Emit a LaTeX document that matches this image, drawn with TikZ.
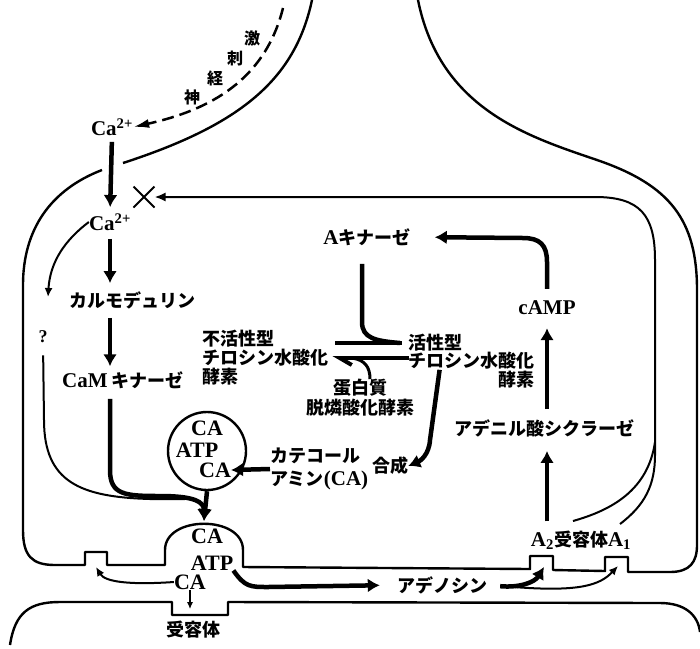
\documentclass[tikz,border=0pt]{standalone}
\usepackage{fontspec}
\setmainfont{Liberation Serif}
\newfontfamily\jpfont{Noto Sans CJK JP}
\newcommand{\rl}[1]{{\rmfamily\fontsize{21}{23}\selectfont #1}}
\usetikzlibrary{positioning,arrows.meta,shapes.misc}

\begin{document}
\begin{tikzpicture}[x=1pt, y=-1pt,
    >={Latex[length=12pt,width=14pt]},
    jlbl/.style={font=\jpfont\bfseries\fontsize{18}{20}\selectfont, inner sep=0pt},
    nlbl/.style={font=\jpfont\bfseries\fontsize{16}{16}\selectfont, inner sep=0pt},
    lat/.style={font=\bfseries\fontsize{21}{23}\selectfont, inner sep=0pt},
    chem/.style={font=\bfseries\fontsize{22}{24}\selectfont, inner sep=0pt},
    mem/.style={line width=2.4pt, line join=round},
    bigarrow/.style={->, line width=4.5pt},
    thinarrow/.style={-{Latex[length=9pt,width=8pt]}, line width=2pt}
  ]
  \useasboundingbox (0,0) rectangle (700,648);

  % ===== Membranes =====
  % axon, left side (open where Ca enters)
  \draw[mem] (312,0) .. controls (295,80) and (240,125) .. (123,163);
  \draw[mem] (102,170) .. controls (50,190) and (23,230) .. (23,285)
    -- (23,530) .. controls (23,556) and (32,565) .. (55,565)
    -- (85,565) -- (85,552) -- (107,552) -- (107,565)
    -- (165,565) -- (165,550)
    .. controls (165,515) and (243,515) .. (243,550)
    -- (243,567) -- (530,569) -- (530,556) -- (553,556) -- (553,570)
    -- (605,571) -- (605,557) -- (628,557) -- (628,572)
    -- (670,572) .. controls (690,572) and (697,562) .. (697,545)
    -- (697,290) .. controls (697,220) and (670,185) .. (597,160)
    .. controls (530,137) and (440,110) .. (418,0);

  % postsynaptic side
  \draw[mem] (10,645) .. controls (15,612) and (30,602) .. (60,602)
    -- (172,602) -- (172,615) -- (228,615) -- (228,602)
    -- (660,603) .. controls (685,603) and (698,615) .. (700,632);

  % sites on the membrane
  \coordinate (stim) at (283,8);
  \coordinate (qin) at (48,297);
  \coordinate (dometop) at (204,521);
  \coordinate (lbump) at (96,567);
  \coordinate (a2site) at (544,567);
  \coordinate (a1site) at (618,566);
  \coordinate (a1top) at (620,524);
  \coordinate (a2top) at (573,521);

  % ===== Ca entry (left) =====
  \node[lat] (ca1) at (112,127) {Ca\textsuperscript{2+}};
  \node[lat] (ca2) at (110,222) {Ca\textsuperscript{2+}};
  \node[draw, cross out, line width=2pt, minimum size=19pt, inner sep=0pt] (block) at (144,197) {};
  \node[jlbl] (cam) at (132,300) {カルモデュリン};
  \node[jlbl] (camk) at (123,380) {\rl{CaM} キナーゼ};
  \node[font=\bfseries\fontsize{18}{20}\selectfont, inner sep=0pt] (q) at (43,337) {?};

  % nerve stimulus
  \node[nlbl] (nv1) at (192,97) {神};
  \node[nlbl] (nv2) at (215,78) {経};
  \node[nlbl] (nv3) at (235,58) {刺};
  \node[nlbl] (nv4) at (252,38) {激};
  \draw[dash pattern=on 12pt off 6pt, line width=2.5pt, -{Latex[length=16pt,width=9pt]}]
    (stim) .. controls (265,80) and (210,110) .. (ca1.east);

  \draw[bigarrow, shorten <=6pt, shorten >=6pt] (ca1.south) -- (ca2.north);
  \draw[bigarrow, shorten <=8pt, shorten >=8pt] (ca2.south) -- (ca2.south |- cam.north);
  \draw[bigarrow, shorten <=9pt, shorten >=5pt] (ca2.south |- cam.south) -- (ca2.south |- camk.north);
  \draw[thinarrow] (ca2.west) .. controls (65,240) and (50,262) .. (qin);

  % ===== Tyrosine hydroxylase =====
  \node[jlbl, anchor=west] (inact1) at (202,339) {不活性型};
  \node[jlbl, anchor=west] (inact2) at (202,358) {チロシン水酸化};
  \node[jlbl, anchor=west] (inact3) at (202,377) {酵素};
  \node[jlbl, anchor=west] (act1) at (408,343) {活性型};
  \node[jlbl, anchor=east] (act2) at (535,361) {チロシン水酸化};
  \node[jlbl, anchor=east] (act3) at (535,380) {酵素};
  \node[jlbl, align=center] (ppase) at (360,398) {蛋白質\\脱燐酸化酵素};

  \draw[line width=4.5pt, shorten <=7pt, shorten >=6pt] (inact2.east |- act1.west) -- (act1.west);
  \draw[line width=4pt, -{Straight Barb[harpoon,length=12pt,width=14pt]}, shorten >=4pt]
    (act2.west |- inact2.east) -- (inact2.east);
  \draw[line width=3pt] ([xshift=10pt]ppase.north) .. controls (370,367) and (365,360) .. (352,358);

  % ===== cAMP pathway (right) =====
  \node[jlbl] (akin) at (367,237) {\rl{A}キナーゼ};
  \node[lat] (camp) at (547,308) {cAMP};
  \node[jlbl] (acyc) at (544,428) {アデニル酸シクラーゼ};
  \node[jlbl] (rec) at (581,540) {\rl{A\textsubscript{2}}受容体\rl{A\textsubscript{1}}};

  \draw[line width=4.5pt, shorten <=18pt] ([xshift=-5pt]akin.south)
    -- (362,322) .. controls (362,338) and (375,341) .. (400,343);
  \draw[bigarrow, shorten <=12pt, shorten >=24pt] (camp.north)
    -- (547,262) .. controls (547,245) and (540,238) .. (523,238) -- (akin.east);
  \draw[bigarrow, shorten <=10pt, shorten >=13pt] (acyc.north -| camp) -- (camp.south);
  \draw[bigarrow, shorten <=9pt, shorten >=14pt] (rec.north -| camp) -- (acyc.south -| camp);

  % A1 feedback onto the Ca channel
  \draw[line width=2pt, -{Latex[length=11pt,width=9pt]}] (a1top)
    .. controls (645,505) and (655,485) .. (655,455) -- (655,260)
    .. controls (655,215) and (640,197) .. (595,197) -- (block.east);
  \draw[line width=2pt] (655,442) .. controls (648,490) and (612,510) .. (a2top);

  % ===== Vesicle and release =====
  \node[circle, draw, line width=2.4pt, minimum size=78pt, inner sep=0pt] (ves) at (207,451) {};
  \node[chem] (vca1) at (207,428) {CA};
  \node[chem] (vatp) at (197,450) {ATP};
  \node[chem] (vca2) at (215,470) {CA};
  \node[jlbl, align=left, anchor=west] (cat) at (270,469) {カテコール\\[3pt]アミン\rl{(CA)}};
  \node[jlbl] (synth) at (390,466) {合成};

  \draw[bigarrow] (cat.west) -- (vca2.east);
  \draw[bigarrow] ([xshift=31pt]act2.south west) -- (430,440)
    .. controls (429,455) and (420,461) .. (synth.east);
  \draw[line width=2pt, shorten <=12pt] (q.south) -- (44,420)
    .. controls (44,482) and (80,497) .. (150,499) -- (185,499);
  \draw[bigarrow, shorten <=10pt] (ca2.south |- camk.south) -- (110,470)
    .. controls (110,495) and (125,496) .. (160,496)
    .. controls (195,496) and (204,502) .. (dometop);
  \draw[bigarrow] (ves.south) -- (dometop);

  % release site
  \node[chem] (dca1) at (207,536) {CA};
  \node[chem] (datp) at (212,563) {ATP};
  \node[chem] (dca2) at (190,582) {CA};
  \node[jlbl] (post) at (193,630) {受容体};
  \node[jlbl] (ado) at (442,585) {アデノシン};

  \draw[thinarrow] (dca2.west) .. controls (130,585) and (105,582) .. (lbump);
  \draw[line width=1.6pt, -{Latex[length=7pt,width=6pt]}, shorten >=12pt] (dca2.south) -- (dca2.south |- post.north);
  \draw[bigarrow, shorten >=17pt] (datp.south east) .. controls (245,587) and (250,587) .. (268,587) -- (ado.west);
  \draw[bigarrow, shorten <=13pt] (ado.east) .. controls (520,588) and (535,582) .. (a2site);
  \draw[thinarrow, shorten <=28pt] (ado.east) .. controls (580,592) and (600,585) .. (a1site);

\end{tikzpicture}
\end{document}
